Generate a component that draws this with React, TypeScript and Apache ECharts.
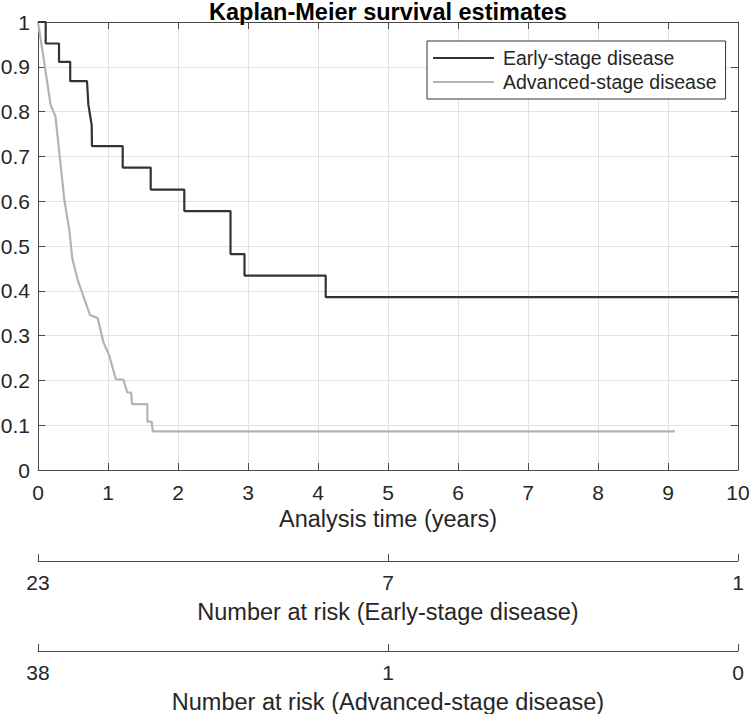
import React, { useEffect, useRef } from "react";
import * as echarts from "echarts";

const titleText = "Kaplan-Meier survival estimates";
const seriesNames = ["Early-stage disease", "Advanced-stage disease"];

// Kaplan-Meier curve vertices (time in years, survival probability)
const earlyTime = [0, 0.11, 0.11, 0.3, 0.3, 0.46, 0.46, 0.7, 0.72, 0.767, 0.771, 1.21, 1.21, 1.61, 1.61, 2.09, 2.09, 2.75, 2.75, 2.95, 2.95, 4.11, 4.11, 10];
const earlySurv = [1, 1, 0.952, 0.952, 0.911, 0.911, 0.868, 0.868, 0.815, 0.77, 0.723, 0.723, 0.675, 0.675, 0.626, 0.626, 0.578, 0.578, 0.482, 0.482, 0.434, 0.434, 0.386, 0.386];

const advTime = [0, 0.076, 0.18, 0.25, 0.376, 0.447, 0.49, 0.567, 0.743, 0.852, 0.933, 1.014, 1.114, 1.219, 1.276, 1.33, 1.345, 1.562, 1.562, 1.624, 1.64, 9.1];
const advSurv = [1, 0.923, 0.815, 0.789, 0.603, 0.536, 0.472, 0.424, 0.346, 0.339, 0.286, 0.257, 0.202, 0.202, 0.173, 0.173, 0.147, 0.147, 0.108, 0.108, 0.086, 0.086];

// Number at risk table
const riskTimes = [0, 5, 10];
const earlyAtRisk = [23, 7, 1];
const advAtRisk = [38, 1, 0];

const xTicks = [0, 1, 2, 3, 4, 5, 6, 7, 8, 9, 10];

const FONT = "'Liberation Sans', Arial, Helvetica, sans-serif";
const TEXT = "#262626";
const AXIS = "#4a4a4a";
const GRID = "#e2e2e2";
const TICK_FS = 21;
const NAME_FS = 23.5;

export default function App() {
  const ref = useRef<HTMLDivElement>(null);
  useEffect(() => {
    if (!ref.current) return;
    const chart = echarts.init(ref.current, null, { renderer: "svg" });
    const zip = (t: number[], s: number[]) => t.map((v, i) => [v, s[i]]);
    const riskFmt = (arr: number[]) => (v: number) => {
      const i = riskTimes.indexOf(v);
      return i >= 0 ? String(arr[i]) : "";
    };
    const riskAxis = (gridIndex: number, arr: number[], name: string) => ({
      type: "value",
      gridIndex,
      position: "bottom",
      min: 0,
      max: 10,
      interval: 5,
      name,
      nameLocation: "middle",
      nameGap: 39,
      nameTextStyle: { color: TEXT, fontSize: NAME_FS, fontFamily: FONT },
      axisLine: { show: true, lineStyle: { color: AXIS, width: 1 } },
      axisTick: { show: true, inside: true, length: 7, lineStyle: { color: AXIS } },
      axisLabel: { show: true, margin: 10.5, color: TEXT, fontSize: TICK_FS, fontFamily: FONT, formatter: riskFmt(arr) },
      splitLine: { show: false },
    });
    const hiddenY = (gridIndex: number) => ({
      type: "value",
      gridIndex,
      show: false,
      min: 0,
      max: 1,
    });
    chart.setOption({
      animation: false,
      backgroundColor: "#ffffff",
      textStyle: { fontFamily: FONT },
      title: {
        text: titleText,
        left: 388,
        textAlign: "center",
        top: 0,
        padding: 0,
        textStyle: { fontSize: NAME_FS, fontWeight: "bold", color: "#000", fontFamily: FONT },
      },
      legend: {
        data: seriesNames,
        orient: "vertical",
        left: 427,
        top: 41,
        padding: [7, 9, 7, 6],
        itemGap: 4,
        itemWidth: 61,
        itemHeight: 2,
        icon: "rect",
        borderColor: "#333",
        borderWidth: 1,
        backgroundColor: "#fff",
        textStyle: { fontSize: 19.5, color: TEXT, fontFamily: FONT, padding: [0, 0, 0, 4] },
      },
      grid: [
        { left: 38, top: 22, width: 700, height: 448, containLabel: false, outerBoundsMode: "none" },
        { left: 38, top: 560, width: 700, height: 1, containLabel: false, outerBoundsMode: "none" },
        { left: 38, top: 650, width: 700, height: 1, containLabel: false, outerBoundsMode: "none" },
      ],
      xAxis: [
        {
          type: "value",
          gridIndex: 0,
          position: "bottom",
          min: 0,
          max: 10,
          interval: 1,
          name: "Analysis time (years)",
          nameLocation: "middle",
          nameGap: 31,
          nameTextStyle: { color: TEXT, fontSize: NAME_FS, fontFamily: FONT },
          axisLine: { show: true, onZero: false, lineStyle: { color: AXIS, width: 1 } },
          axisTick: { show: true, inside: true, length: 7, lineStyle: { color: AXIS } },
          axisLabel: {
            margin: 11.5,
            color: TEXT,
            fontSize: TICK_FS,
            fontFamily: FONT,
            formatter: (v: number) => (xTicks.includes(v) ? String(v) : ""),
          },
          splitLine: { show: true, lineStyle: { color: GRID, width: 1 } },
        },
        {
          type: "value",
          gridIndex: 0,
          position: "top",
          min: 0,
          max: 10,
          interval: 1,
          axisLine: { show: true, onZero: false, lineStyle: { color: AXIS, width: 1 } },
          axisTick: { show: true, inside: true, length: 7, lineStyle: { color: AXIS } },
          axisLabel: { show: false },
          splitLine: { show: false },
        },
        riskAxis(1, earlyAtRisk, "Number at risk (Early-stage disease)"),
        riskAxis(2, advAtRisk, "Number at risk (Advanced-stage disease)"),
      ],
      yAxis: [
        {
          type: "value",
          gridIndex: 0,
          position: "left",
          min: 0,
          max: 1,
          interval: 0.1,
          axisLine: { show: true, onZero: false, lineStyle: { color: AXIS, width: 1 } },
          axisTick: { show: true, inside: true, length: 7, lineStyle: { color: AXIS } },
          axisLabel: { margin: 8, color: TEXT, fontSize: TICK_FS, fontFamily: FONT },
          splitLine: { show: true, lineStyle: { color: GRID, width: 1 } },
        },
        {
          type: "value",
          gridIndex: 0,
          position: "right",
          min: 0,
          max: 1,
          interval: 0.1,
          axisLine: { show: true, onZero: false, lineStyle: { color: AXIS, width: 1 } },
          axisTick: { show: true, inside: true, length: 7, lineStyle: { color: AXIS } },
          axisLabel: { show: false },
          splitLine: { show: false },
        },
        hiddenY(1),
        hiddenY(2),
      ],
      series: [
        {
          name: seriesNames[0],
          type: "line",
          xAxisIndex: 0,
          yAxisIndex: 0,
          data: zip(earlyTime, earlySurv),
          symbol: "none",
          lineStyle: { color: "#333333", width: 2.2 },
          itemStyle: { color: "#333333" },
          z: 3,
        },
        {
          name: seriesNames[1],
          type: "line",
          xAxisIndex: 0,
          yAxisIndex: 0,
          data: zip(advTime, advSurv),
          symbol: "none",
          lineStyle: { color: "#b3b3b3", width: 2.2 },
          itemStyle: { color: "#b3b3b3" },
          z: 2,
        },
      ],
    });
    return () => chart.dispose();
  }, []);
  return <div ref={ref} style={{ position: "absolute", left: 0, top: 0, width: 750, height: 714 }} />;
}
